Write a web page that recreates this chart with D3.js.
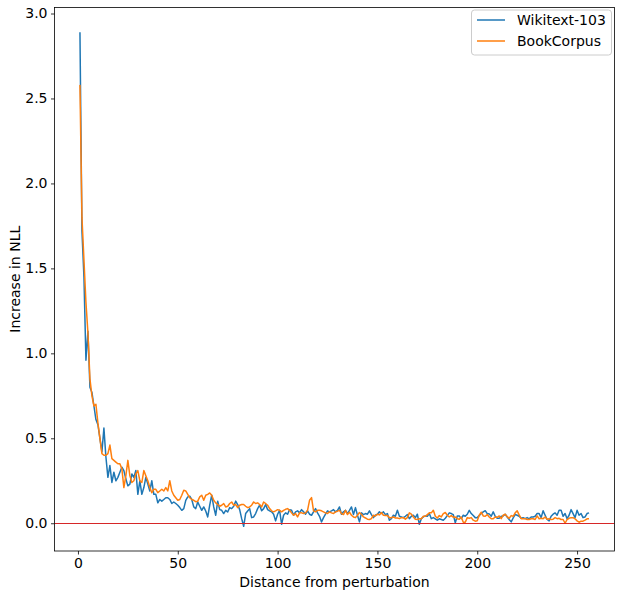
<!DOCTYPE html>
<meta charset="utf-8">
<title>Increase in NLL</title>
<style>

body {
  margin: 0;
  background-color: white;
}

text {
  font-family: "DejaVu Sans", sans-serif;
  font-size: 14px;
  fill: black;
}

.line {
  fill: none;
  stroke-width: 1.5px;
  stroke-linejoin: round;
}

</style>
<body>
<script src="https://cdn.jsdelivr.net/npm/d3@7"></script>
<script>

var seriesNames = ["Wikitext-103", "BookCorpus"],
    seriesColors = ["#1f77b4", "#ff7f0e"];

var xTicks = [0, 50, 100, 150, 200, 250],
    yTicks = [0.0, 0.5, 1.0, 1.5, 2.0, 2.5, 3.0];

// increase in NLL at distance 1..256
var wikitext = [
  2.89, 1.72, 1.45, 0.96, 1.13, 0.80, 0.77, 0.69, 0.61, 0.58,
  0.50, 0.42, 0.56, 0.39, 0.27, 0.34, 0.24, 0.30, 0.25, 0.27,
  0.30, 0.33, 0.31, 0.26, 0.22, 0.23, 0.29, 0.27, 0.31, 0.17,
  0.25, 0.17, 0.21, 0.27, 0.23, 0.19, 0.25, 0.17, 0.17, 0.12,
  0.14, 0.13, 0.14, 0.15, 0.15, 0.14, 0.116, 0.125, 0.116, 0.106,
  0.092, 0.076, 0.086, 0.135, 0.155, 0.159, 0.14, 0.096, 0.086, 0.125,
  0.10, 0.076, 0.096, 0.072, 0.037, 0.106, 0.165, 0.096, 0.047, 0.13,
  0.08, 0.076, 0.057, 0.076, 0.066, 0.092, 0.086, 0.10, 0.13, 0.11,
  0.08, 0.027, -0.018, 0.057, 0.072, 0.086, 0.033, 0.037, 0.057, 0.086,
  0.106, 0.073, 0.086, 0.11, 0.08, 0.073, 0.067, 0.053, 0.014, 0.053,
  0.076, -0.006, 0.047, 0.061, 0.053, 0.08, 0.076, 0.047, 0.067, 0.073,
  0.061, 0.08, 0.067, 0.053, 0.073, 0.053, 0.047, 0.067, 0.086, 0.061,
  0.041, 0.008, 0.033, 0.053, 0.073, 0.067, 0.073, 0.08, 0.067, 0.076,
  0.096, 0.053, 0.067, 0.076, 0.057, 0.076, 0.096, 0.051, 0.092, 0.047,
  0.008, 0.061, 0.051, 0.057, 0.053, 0.073, 0.051, 0.033, 0.047, 0.053,
  0.067, 0.057, 0.067, 0.051, 0.057, 0.018, 0.027, 0.047, 0.041, 0.076,
  0.041, 0.037, 0.033, 0.041, 0.051, 0.027, 0.041, 0.047, 0.033, 0.053,
  -0.006, 0.027, 0.037, 0.043, 0.041, 0.057, 0.027, 0.033, 0.026, 0.018,
  0.026, 0.022, 0.018, 0.029, 0.045, 0.061, 0.057, 0.051, 0.002, 0.043,
  0.043, 0.027, 0.047, 0.041, 0.053, 0.076, 0.057, 0.045, 0.033, 0.033,
  0.045, 0.057, 0.067, 0.074, 0.057, 0.055, 0.041, 0.067, 0.041, 0.029,
  0.029, 0.041, 0.043, 0.053, 0.037, 0.022, 0.008, 0.031, 0.051, 0.047,
  0.041, 0.029, 0.033, 0.027, 0.033, 0.026, 0.037, 0.037, 0.041, 0.057,
  0.057, 0.033, 0.073, 0.047, 0.022, 0.014, 0.041, 0.053, 0.061, 0.047,
  0.076, 0.076, 0.041, 0.057, 0.027, 0.047, 0.08, 0.057, 0.033, 0.076,
  0.047, 0.057, 0.033, 0.037, 0.057, 0.061
];

var bookcorpus = [
  2.58, 1.80, 1.55, 1.30, 1.12, 0.85, 0.75, 0.69, 0.70, 0.59,
  0.50, 0.41, 0.40, 0.40, 0.41, 0.46, 0.38, 0.37, 0.36, 0.35,
  0.35, 0.32, 0.21, 0.28, 0.37, 0.28, 0.24, 0.25, 0.29, 0.31,
  0.25, 0.24, 0.31, 0.28, 0.25, 0.21, 0.18, 0.20, 0.20, 0.18,
  0.19, 0.20, 0.19, 0.21, 0.19, 0.25, 0.19, 0.165, 0.15, 0.135,
  0.14, 0.165, 0.194, 0.19, 0.17, 0.15, 0.14, 0.135, 0.127, 0.13,
  0.155, 0.165, 0.135, 0.165, 0.17, 0.178, 0.165, 0.135, 0.12, 0.11,
  0.10, 0.106, 0.116, 0.096, 0.10, 0.116, 0.125, 0.106, 0.11, 0.092,
  0.106, 0.11, 0.11, 0.10, 0.092, 0.096, 0.106, 0.125, 0.116, 0.12,
  0.11, 0.096, 0.125, 0.116, 0.106, 0.086, 0.073, 0.067, 0.073, 0.08,
  0.076, 0.067, 0.076, 0.082, 0.086, 0.076, 0.061, 0.047, 0.057, 0.037,
  0.061, 0.061, 0.057, 0.061, 0.076, 0.135, 0.151, 0.073, 0.067, 0.076,
  0.076, 0.073, 0.067, 0.061, 0.057, 0.067, 0.061, 0.057, 0.067, 0.071,
  0.076, 0.057, 0.051, 0.076, 0.051, 0.065, 0.047, 0.037, 0.033, 0.047,
  0.063, 0.053, 0.037, 0.031, 0.024, 0.022, 0.027, 0.047, 0.043, 0.053,
  0.049, 0.063, 0.047, 0.045, 0.045, 0.033, 0.033, 0.037, 0.031, 0.031,
  0.027, 0.033, 0.033, 0.024, 0.033, 0.061, 0.053, 0.037, 0.024, 0.022,
  0.026, 0.027, 0.041, 0.041, 0.051, 0.061, 0.061, 0.076, 0.041, 0.031,
  0.045, 0.037, 0.057, 0.063, 0.047, 0.037, 0.045, 0.035, 0.037, 0.027,
  0.024, 0.037, 0.006, 0.006, 0.033, 0.029, 0.033, 0.018, 0.012, 0.014,
  0.047, 0.065, 0.043, 0.041, 0.051, 0.037, 0.027, 0.026, 0.037, 0.035,
  0.043, 0.027, 0.047, 0.053, 0.039, 0.029, 0.045, 0.041, 0.061, 0.073,
  0.049, 0.027, 0.026, 0.027, 0.022, 0.022, 0.026, 0.026, 0.022, 0.043,
  0.026, 0.029, 0.027, 0.037, 0.024, 0.026, 0.022, 0.024, 0.033, 0.027,
  0.029, 0.022, 0.022, 0.0, 0.022, 0.029, 0.033, 0.033, 0.026, 0.014,
  0.006, 0.012, 0.012, 0.018, 0.026, 0.027
];

var series = [wikitext, bookcorpus];

var width = 619,
    height = 597,
    margin = {top: 7.5, right: 4.5, bottom: 46, left: 54.5},
    w = width - margin.left - margin.right,
    h = height - margin.top - margin.bottom;

// matplotlib-style 5% padding around the data
var xmin = 1, xmax = wikitext.length,
    ymin = d3.min(series, function(s) { return d3.min(s); }),
    ymax = d3.max(series, function(s) { return d3.max(s); }),
    xpad = (xmax - xmin) * 0.05,
    ypad = (ymax - ymin) * 0.05;

var x = d3.scaleLinear().domain([xmin - xpad, xmax + xpad]).range([0, w]),
    y = d3.scaleLinear().domain([ymin - ypad, ymax + ypad]).range([h, 0]);

var svg = d3.select("body").append("svg")
    .attr("width", width)
    .attr("height", height);

var g = svg.append("g")
    .attr("transform", "translate(" + margin.left + "," + margin.top + ")");

var line = d3.line()
    .x(function(d, i) { return x(i + 1); })
    .y(function(d) { return y(d); });

g.append("defs").append("clipPath")
    .attr("id", "clip")
  .append("rect")
    .attr("width", w)
    .attr("height", h);

var plot = g.append("g").attr("clip-path", "url(#clip)");

plot.selectAll(".line")
    .data(series)
  .enter().append("path")
    .attr("class", "line")
    .attr("d", line)
    .style("stroke", function(d, i) { return seriesColors[i]; });

// zero line, snapped to the pixel grid so it stays crisp
var y0 = Math.round(y(0) + margin.top) + 0.5 - margin.top;

plot.append("line")
    .attr("x1", 0)
    .attr("x2", w)
    .attr("y1", y0)
    .attr("y2", y0)
    .style("stroke", "#d62728")
    .style("stroke-width", 1);

var xAxis = g.append("g")
    .attr("transform", "translate(0," + h + ")")
    .call(d3.axisBottom(x).tickValues(xTicks).tickSize(3.5).tickPadding(3.5).tickFormat(d3.format("d")));

var yAxis = g.append("g")
    .call(d3.axisLeft(y).tickValues(yTicks).tickSize(3.5).tickPadding(3.5).tickFormat(d3.format(".1f")));

[xAxis, yAxis].forEach(function(a) {
  a.select(".domain").remove();
  a.selectAll(".tick line").style("stroke", "black").style("stroke-width", 0.8);
  a.selectAll(".tick text")
      .style("font-family", "'DejaVu Sans', sans-serif")
      .style("font-size", "14px")
      .style("fill", "black");
});

g.append("rect")
    .attr("width", w)
    .attr("height", h)
    .style("fill", "none")
    .style("stroke", "black")
    .style("stroke-width", 0.8);

g.append("text")
    .attr("x", w / 2)
    .attr("y", h + 36)
    .attr("text-anchor", "middle")
    .text("Distance from perturbation");

g.append("text")
    .attr("transform", "translate(" + (-35) + "," + (h / 2) + ")rotate(-90)")
    .attr("text-anchor", "middle")
    .text("Increase in NLL");

// legend, upper right
var legend = svg.append("g")
    .attr("transform", "translate(471.5,10)");

legend.append("rect")
    .attr("width", 140)
    .attr("height", 45)
    .attr("rx", 3)
    .style("fill", "white")
    .style("fill-opacity", 0.8)
    .style("stroke", "#cccccc")
    .style("stroke-width", 1);

var item = legend.selectAll(".item")
    .data(seriesNames)
  .enter().append("g")
    .attr("class", "item")
    .attr("transform", function(d, i) { return "translate(0," + (10 + i * 21) + ")"; });

item.append("line")
    .attr("x1", 5.5)
    .attr("x2", 33.5)
    .style("stroke", function(d, i) { return seriesColors[i]; })
    .style("stroke-width", 1.5);

item.append("text")
    .attr("x", 45.5)
    .attr("dy", "0.36em")
    .text(function(d) { return d; });

</script>
